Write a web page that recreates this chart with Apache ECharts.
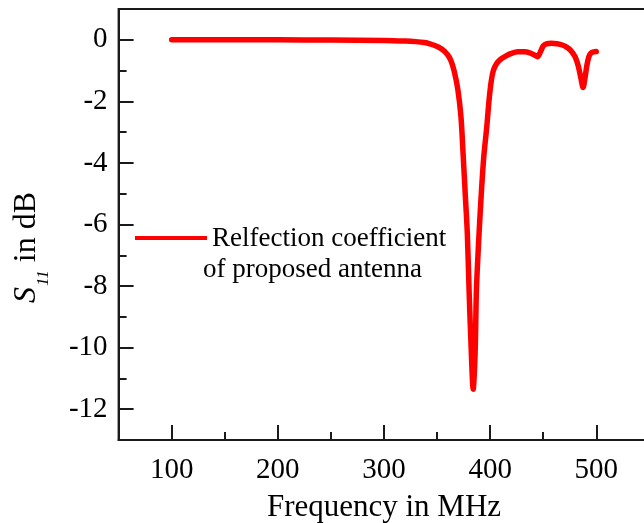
<!DOCTYPE html>
<html>
<head>
<meta charset="utf-8">
<script src="https://cdn.jsdelivr.net/npm/echarts@6/dist/echarts.min.js"></script>
<style>
html,body{margin:0;padding:0;background:#fff;}
#c{width:644px;height:523px;}
</style>
</head>
<body>
<div id="c"></div>
<script>
// Frequency (MHz)
const freq = [100,150,200,250,300,320,330,338,344,349,353,357,360,363,366,369.5,372.5,374.5,376.5,378.5,380.2,382.3,384,385.8,387,388.5,390,392,394,396.8,399,401,403,406,410,415,420,426,432,438,442,444.5,447,450,453,458,463,468,472,476,480,483,485.5,487.5,489.5,491,493,495,498,500];
// S11 (dB)
const s11 = [0,0,0,-0.01,-0.02,-0.04,-0.06,-0.09,-0.14,-0.2,-0.27,-0.37,-0.49,-0.67,-1.0,-1.6,-2.5,-3.7,-5.0,-6.3,-8.2,-10.2,-11.35,-10.2,-8.2,-7.0,-6.0,-4.8,-3.8,-2.83,-1.95,-1.35,-1.0,-0.78,-0.63,-0.52,-0.44,-0.39,-0.39,-0.43,-0.5,-0.55,-0.42,-0.2,-0.13,-0.11,-0.13,-0.17,-0.24,-0.35,-0.55,-0.85,-1.25,-1.55,-1.2,-0.85,-0.55,-0.43,-0.39,-0.38];
const xMajor = [100,200,300,400,500];
const xMinor = [50,150,250,350,450,550];
const yMajor = [-12,-10,-8,-6,-4,-2,0];
const yMinor = [-11,-9,-7,-5,-3,-1];
const seriesName = 'Relfection coefficient of proposed antenna';
const legendLines = ['Relfection coefficient','of proposed antenna'];

const font = '"Liberation Serif","Times New Roman",serif';
const axisColor = '#1a1a1a';
const chart = echarts.init(document.getElementById('c'), null, {renderer:'canvas'});

function xAx(major){
  return {
    type:'value', min:50, max:550, position:'bottom', gridIndex:0,
    axisLine:{show:major, onZero:false, lineStyle:{color:axisColor,width:2}},
    axisTick:{show:true, inside:true, length: major?15:8, customValues: major?xMajor:xMinor, lineStyle:{color:axisColor,width:2}},
    axisLabel:{show:major, customValues:xMajor, margin:16, color:'#000', fontFamily:font, fontSize:29},
    splitLine:{show:false},
    name: major ? 'Frequency in MHz' : '',
    nameLocation:'middle', nameGap:52,
    nameTextStyle:{fontFamily:font, fontSize:31, color:'#000'}
  };
}
function yAx(major){
  return {
    type:'value', min:-13, max:1, position:'left', gridIndex:0,
    axisLine:{show:major, onZero:false, lineStyle:{color:axisColor,width:2}},
    axisTick:{show:true, inside:true, length: major?15:8, customValues: major?yMajor:yMinor, lineStyle:{color:axisColor,width:2}},
    axisLabel:{show:major, customValues:yMajor, margin:11, color:'#000', fontFamily:font, fontSize:29},
    splitLine:{show:false},
    name: major ? '{s|S}{sub|11}{t| in dB}' : '',
    nameLocation:'middle', nameGap:76, nameRotate:90,
    nameTextStyle:{
      fontFamily:font, fontSize:32, color:'#000', padding:[0,46,0,0],
      rich:{
        s:{fontFamily:font, fontSize:32, fontStyle:'italic', color:'#000', lineHeight:32, verticalAlign:'top'},
        sub:{fontFamily:font, fontSize:17, fontStyle:'italic', color:'#000', lineHeight:17, padding:[24,0,0,1], verticalAlign:'top'},
        t:{fontFamily:font, fontSize:32, color:'#000', lineHeight:32, verticalAlign:'top'}
      }
    }
  };
}

chart.setOption({
  animation:false,
  backgroundColor:'#fff',
  grid:{left:118.6, right:-5.4, top:9, bottom:83, show:true, borderColor:axisColor, borderWidth:2, backgroundColor:'transparent', outerBoundsMode:'none'},
  xAxis:[xAx(true), xAx(false)],
  yAxis:[yAx(true), yAx(false)],
  series:[{
    name:seriesName, type:'line', xAxisIndex:0, yAxisIndex:0,
    data: freq.map((f,i)=>[f,s11[i]]),
    smooth:0.3, showSymbol:false,
    lineStyle:{color:'#ff0000', width:5.5, cap:'round', join:'round'}
  }],
  graphic:[
    {type:'line', shape:{x1:135,y1:238,x2:207,y2:238}, style:{stroke:'#ff0000', lineWidth:4}},
    {type:'text', x:212, y:239, style:{text:legendLines[0], font:'27px '+font, fill:'#000', verticalAlign:'middle'}},
    {type:'text', x:203, y:270, style:{text:legendLines[1], font:'27px '+font, fill:'#000', verticalAlign:'middle'}}
  ]
});
</script>
</body>
</html>
